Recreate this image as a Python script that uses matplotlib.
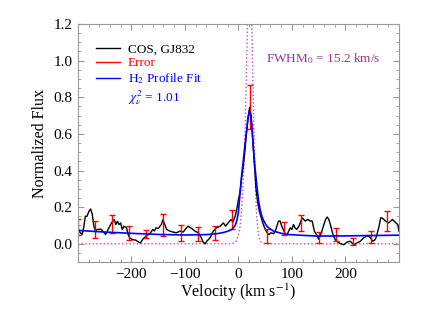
import matplotlib.pyplot as plt
from matplotlib.lines import Line2D
from matplotlib.ticker import MultipleLocator

plt.rcParams['font.family'] = ['Liberation Serif', 'DejaVu Serif']
plt.rcParams['mathtext.fontset'] = 'stix'

# COS spectrum (km/s, normalized flux)
vel = [-300, -298, -292, -289, -286, -283, -279, -276, -273, -270, -267, -264,
       -257, -251, -248, -245, -242, -237, -232, -229, -226, -223, -220, -217,
       -214, -209, -206, -203, -198, -192, -186, -183, -179, -173, -168, -164,
       -160, -157, -154, -150, -144, -141, -134, -128, -122, -116, -109, -103,
       -97, -94, -87, -81, -75, -69, -66, -62, -59, -53, -47, -41, -34, -31,
       -28, -24, -19, -14, -10, -6, -3, 0, 3, 6, 9, 12, 15, 18, 21, 24, 27,
       30, 33, 36, 39, 42, 45, 48, 51, 54, 57, 61, 66, 69, 72, 75, 78, 81, 84,
       88, 91, 94, 97, 100, 103, 106, 109, 113, 116, 119, 122, 125, 130, 134,
       138, 142, 147, 150, 153, 156, 159, 163, 166, 169, 172, 175, 178, 181,
       184, 191, 197, 203, 209, 212, 216, 222, 228, 234, 241, 247, 251, 256,
       259, 263, 266, 269, 275, 281, 288, 294, 298, 300]
flux = [0.096, 0.069, 0.05, 0.089, 0.15, 0.15, 0.178, 0.19, 0.16, 0.096, 0.069,
        0.078, 0.08, 0.062, 0.05, 0.069, 0.087, 0.114, 0.132, 0.105, 0.123,
        0.105, 0.114, 0.078, 0.096, 0.087, 0.05, 0.032, 0.023, 0.02, 0.009,
        0.005, 0.023, 0.041, 0.05, 0.06, 0.078, 0.07, 0.087, 0.083, 0.105,
        0.132, 0.078, 0.069, 0.064, 0.06, 0.069, 0.064, 0.087, 0.096, 0.083,
        0.069, 0.06, 0.032, 0.009, 0.0, 0.014, 0.032, 0.069, 0.087, 0.096,
        0.105, 0.114, 0.096, 0.114, 0.132, 0.12, 0.15, 0.187, 0.24, 0.28,
        0.36, 0.42, 0.50, 0.60, 0.68, 0.745, 0.70, 0.56, 0.43, 0.30, 0.23,
        0.18, 0.15, 0.12, 0.095, 0.075, 0.06, 0.05, 0.06, 0.055, 0.069, 0.096,
        0.124, 0.124, 0.096, 0.078, 0.05, 0.05, 0.069, 0.087, 0.078, 0.105,
        0.087, 0.078, 0.096, 0.115, 0.142, 0.133, 0.124, 0.133, 0.124, 0.124,
        0.069, 0.045, 0.025, 0.045, 0.069, 0.096, 0.133, 0.146, 0.133, 0.105,
        0.069, 0.041, 0.023, 0.014, 0.0, -0.005, 0.009, 0.014, 0.005, -0.005,
        0.005, 0.014, 0.032, 0.045, 0.032, 0.014, 0.023, 0.05, 0.096, 0.142,
        0.14, 0.124, 0.114, 0.133, 0.115, 0.105, 0.069]

# error bars: velocity, lower and upper flux
err_v = [-299, -268, -237, -204, -172, -141, -108, -76, -44, -11, 21, 53, 86,
         117, 150, 183, 215, 247, 278]
err_lo = [0.05, 0.033, 0.06, 0.018, 0.033, 0.042, 0.014, 0.014, 0.023, 0.078,
          0.625, 0.002, 0.047, 0.069, 0.002, 0.014, -0.009, 0.002, 0.069]
err_hi = [0.133, 0.124, 0.156, 0.096, 0.073, 0.16, 0.10, 0.09, 0.096, 0.187,
          0.865, 0.078, 0.118, 0.156, 0.063, 0.087, 0.033, 0.069, 0.178]

# H2 profile fit
fit_v = [-300, -250, -200, -150, -100, -60, -40, -30, -20, -12, -6, -3, 0, 3,
         6, 9.4, 12, 15.8, 18, 20.6, 23, 25, 27, 29, 31.3, 34.5, 37.5, 40.7,
         44, 47, 53, 60, 66, 80, 91, 120, 147, 200, 250, 300]
fit_f = [0.073, 0.064, 0.057, 0.051, 0.048, 0.05, 0.055, 0.06, 0.068, 0.078,
         0.10, 0.124, 0.17, 0.27, 0.37, 0.46, 0.53, 0.63, 0.69, 0.725, 0.70,
         0.65, 0.57, 0.49, 0.41, 0.32, 0.24, 0.187, 0.15, 0.128, 0.096, 0.08,
         0.069, 0.057, 0.051, 0.046, 0.042, 0.043, 0.045, 0.047]

# intrinsic profile (FWHM 15.2 km/s)
int_v = [-300, -15, -8, -4, 0, 3, 6, 9, 12, 15, 17, 19, 21, 23, 25, 27, 30,
         32.6, 34.5, 37.5, 40, 43, 50, 300]
int_f = [0.0, 0.0, 0.004, 0.015, 0.045, 0.09, 0.19, 0.33, 0.55, 0.92, 1.2,
         1.38, 1.45, 1.38, 1.2, 0.92, 0.5, 0.25, 0.14, 0.05, 0.02, 0.007, 0.0,
         0.0]

fig = plt.figure(figsize=(4.23, 3.12), dpi=100)
ax = fig.add_axes([0.184, 0.16, 0.759, 0.763])

ax.plot(int_v, int_f, color='#cc44cc', linestyle=':', linewidth=1.0)
ax.plot(vel, flux, color='black', linewidth=1.0)
mid = [(a + b) / 2 for a, b in zip(err_lo, err_hi)]
half = [(b - a) / 2 for a, b in zip(err_lo, err_hi)]
ax.errorbar(err_v, mid, yerr=half, fmt='none', ecolor='red', elinewidth=1.0,
            capsize=2.5, capthick=1.0)
ax.plot(fit_v, fit_f, color='blue', linewidth=1.2)

ax.set_xlim(-300, 300)
ax.set_ylim(-0.1, 1.2)
ax.set_xticks([-200, -100, 0, 100, 200])
ax.set_xticklabels(['\u2212200', '\u2212100', '0', '100', '200'])
ax.set_yticks([0.0, 0.2, 0.4, 0.6, 0.8, 1.0, 1.2])
ax.xaxis.set_minor_locator(MultipleLocator(20))
ax.yaxis.set_minor_locator(MultipleLocator(0.05))
ax.tick_params(which='both', direction='in', top=True, right=True,
               color='#999999', labelsize=11, pad=4)
ax.tick_params(which='major', length=4)
ax.tick_params(which='minor', length=2)
for spine in ax.spines.values():
    spine.set_edgecolor('#999999')
    spine.set_linewidth(0.8)

ax.set_xlabel('Velocity (km s$^{-1}$)', fontsize=11.5, labelpad=1)
ax.set_ylabel('Normalized Flux', fontsize=11.5, labelpad=4)

# legend
handles = [Line2D([], [], color='black', lw=1.0),
           Line2D([], [], color='red', lw=1.0),
           Line2D([], [], color='blue', lw=1.0),
           Line2D([], [], color='none')]
labels = ['COS, GJ832', 'Error', 'H$_2$ Profile Fit', r'$\chi^2_\nu$ = 1.01']
ax.legend(handles, labels, loc='upper left', bbox_to_anchor=(0.02, 0.97),
          frameon=False, fontsize=9.5, handlelength=1.8, handletextpad=0.6,
          labelspacing=0.15, labelcolor=['black', 'red', 'blue', 'blue'])

ax.text(52, 1.01, 'FWHM$_0$ = 15.2 km/s', color='#993399', fontsize=9.5,
        va='center', ha='left')

fig.savefig('out.png', dpi=100)
